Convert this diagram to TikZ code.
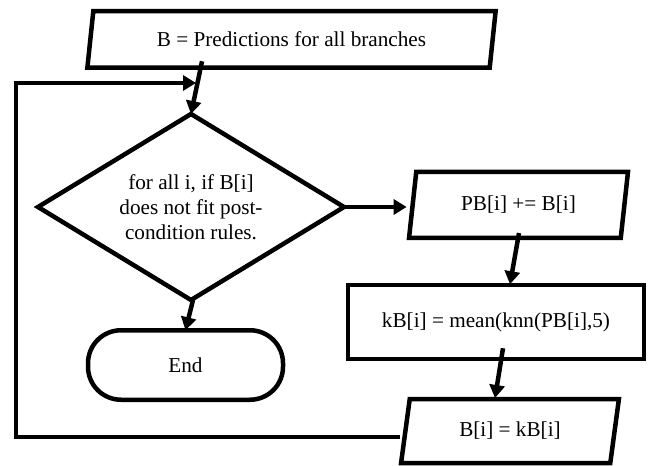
\documentclass[tikz,border=0pt]{standalone}
\usepackage{fontspec}
\setmainfont{Liberation Serif}
\usetikzlibrary{shapes.geometric,arrows.meta,calc}
\begin{document}
\begin{tikzpicture}[x=1bp,y=-1bp,
  every node/.style={font=\fontsize{21.2bp}{24.7bp}\selectfont, inner sep=0pt, outer sep=0pt},
  shp/.style={draw, line width=4.5bp, line join=miter},
  para/.style 2 args={shp, trapezium, trapezium stretches=true,
    trapezium left angle=#1, trapezium right angle=#2},
  conn/.style={line width=4.5bp, -{Triangle[length=13bp,width=15bp]}},
]
\useasboundingbox (0,0) rectangle (652,466);

% nodes
\node[para={75}{105}, minimum width=409bp, minimum height=56.7bp] (top) at (291.5,39.4) {B = Predictions for all branches};
\node[shp, diamond, aspect=1.645, minimum width=306bp, minimum height=186bp, align=center] (dia) at (191,207)
  {for all i, if B[i]\\does not fit post-\\condition rules.};
\node[shp, rectangle, rounded corners=33bp, minimum width=195bp, minimum height=69.5bp] (end) at (185.5,365) {End};
\node[para={77}{103}, minimum width=219bp, minimum height=66bp] (pb) at (518.5,205) {PB[i] += B[i]};
\node[shp, rectangle, minimum width=296bp, minimum height=73.5bp] (kb) at (496,322) {kB[i] = mean(knn(PB[i],5)};
\node[para={76}{104}, minimum width=218bp, minimum height=64bp] (bi) at (510,431) {B[i] = kB[i]};

% loop coordinates
\coordinate (c1) at (16,437);
\coordinate (c2) at (16,83);
\coordinate (j) at (196,83);

% connectors
\draw[conn] ($(top.south)+(-89.5,-6.5)$) -- (dia.north);
\draw[conn] (dia.east) -- ($(dia.east -| pb.west)+(-6,0)$);
\draw[conn] ($(pb.south)+(0.5,-5)$) -- ($(kb.north)+(14,-1)$);
\draw[conn] ($(kb.south)+(7,-10.5)$) -- ($(bi.north)+(-15,-1)$);
\draw[conn] ($(dia.south)+(2,0)$) -- (end.north);
\draw[conn] ($(c1 -| bi.west)+(-5,0)$) -- (c1) -- (c2) -- (j);
\end{tikzpicture}
\end{document}
